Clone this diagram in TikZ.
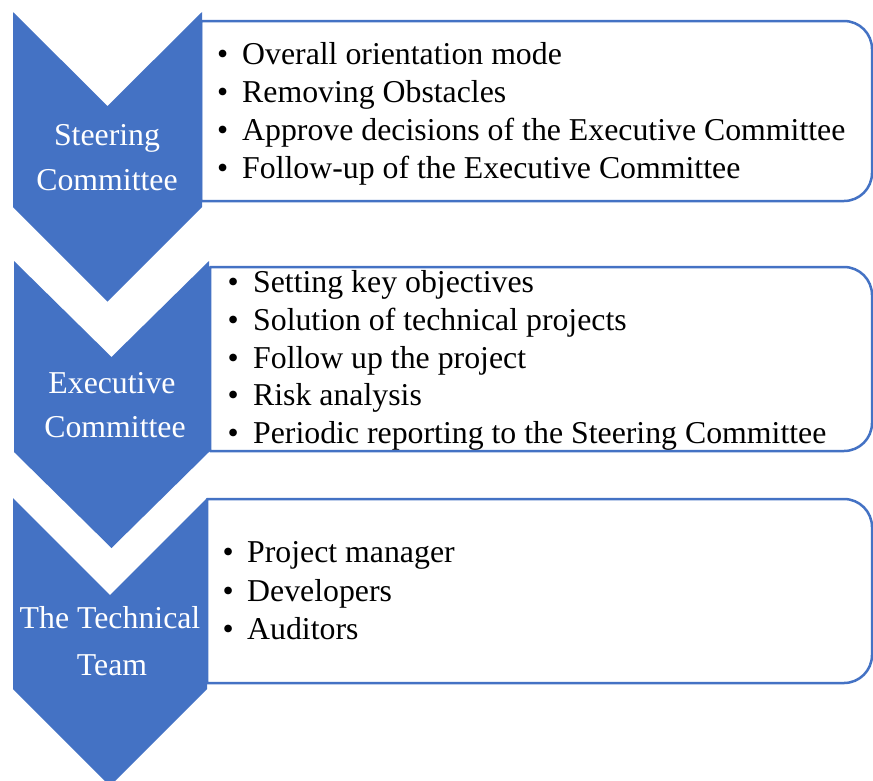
\documentclass[tikz,border=0pt]{standalone}
\usepackage{fontspec}
\setmainfont{Liberation Serif}
\definecolor{chevblue}{HTML}{4472C4}
\tikzset{
  chev/.style={fill=chevblue, draw=none},
  listbox/.style={draw=chevblue, line width=2.5pt, fill=white, line join=round},
  chevtext/.style={text=white, inner sep=0pt, anchor=base, font=\fontsize{31.8}{38}\selectfont},
  item/.style={text=black, inner sep=0pt, anchor=base west, font=\fontsize{31.8}{38}\selectfont},
}
\begin{document}
\begin{tikzpicture}[x=1pt,y=-1pt]
\useasboundingbox (0,0) rectangle (873,780);
\clip (0,0) rectangle (873,780);
% boxes
\draw[listbox] (201,21) -- (844,21) arc[start angle=270,end angle=360,radius=28] -- (872,173) arc[start angle=0,end angle=90,radius=28] -- (201,201) -- cycle;
\draw[listbox] (210,267) -- (844,267) arc[start angle=270,end angle=360,radius=28] -- (872,423) arc[start angle=0,end angle=90,radius=28] -- (210,451) -- cycle;
\draw[listbox] (207,499) -- (844,499) arc[start angle=270,end angle=360,radius=28] -- (872,655) arc[start angle=0,end angle=90,radius=28] -- (207,683) -- cycle;
% chevrons
\fill[chev] (13,12) -- (107.5,106) -- (202,12) -- (202,207) -- (107.5,301.5) -- (13,207) -- cycle;
\fill[chev] (14,261) -- (111.5,357) -- (209,261) -- (209,452) -- (111.5,548) -- (14,452) -- cycle;
\fill[chev] (13,498) -- (110,595) -- (207,498) -- (207,689) -- (110,786) -- (13,689) -- cycle;
% chevron labels
\node[chevtext] (s1) at (107,145) {Steering};
\node[chevtext] (s2) at (107,190) {Committee};
\node[chevtext] (e1) at (112,393) {Executive};
\node[chevtext] (e2) at (115,437) {Committee};
\node[chevtext] (t1) at (110,628) {The Technical};
\node[chevtext] (t2) at (112,675) {Team};
% box 1 items
\node[item] (a1) at (203,64) {\makebox[39pt][c]{\textbullet}Overall orientation mode};
\node[item] (a2) at (203,102) {\makebox[39pt][c]{\textbullet}Removing Obstacles};
\node[item] (a3) at (203,140) {\makebox[39pt][c]{\textbullet}Approve decisions of the Executive Committee};
\node[item] (a4) at (203,178) {\makebox[39pt][c]{\textbullet}Follow-up of the Executive Committee};
% box 2 items
\node[item] (b1) at (213,292) {\makebox[40pt][c]{\textbullet}Setting key objectives};
\node[item] (b2) at (213,330) {\makebox[40pt][c]{\textbullet}Solution of technical projects};
\node[item] (b3) at (213,368) {\makebox[40pt][c]{\textbullet}Follow up the project};
\node[item] (b4) at (213,405) {\makebox[40pt][c]{\textbullet}Risk analysis};
\node[item] (b5) at (213,443) {\makebox[40pt][c]{\textbullet}Periodic reporting to the Steering Committee};
% box 3 items
\node[item] (c1) at (209,562) {\makebox[38pt][c]{\textbullet}Project manager};
\node[item] (c2) at (209,601) {\makebox[38pt][c]{\textbullet}Developers};
\node[item] (c3) at (209,639) {\makebox[38pt][c]{\textbullet}Auditors};
\end{tikzpicture}
\end{document}
